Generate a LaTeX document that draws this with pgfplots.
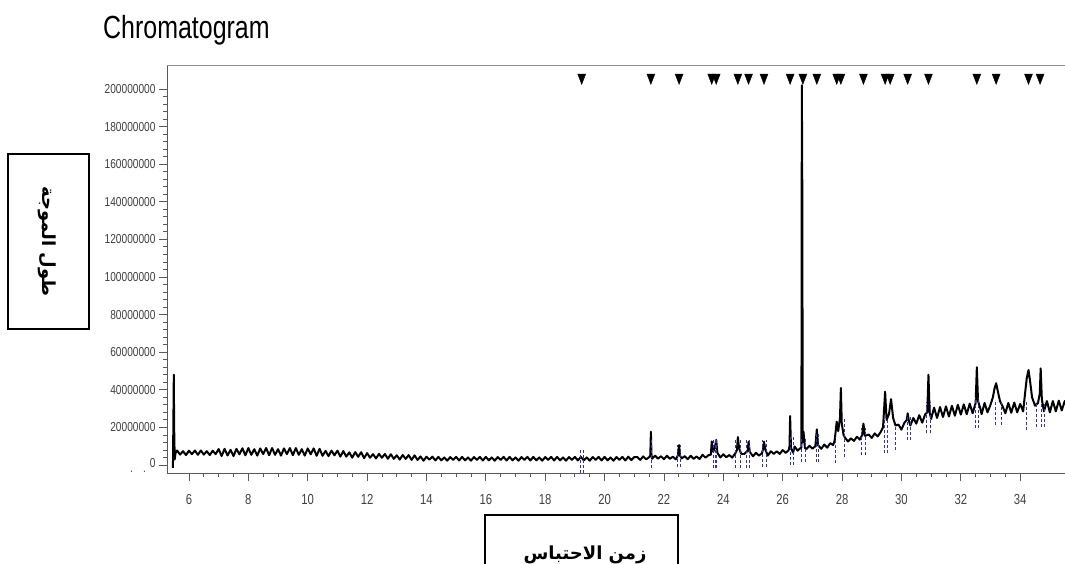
\documentclass[border=0pt]{standalone}
\usepackage{pgfplots}
\pgfplotsset{compat=1.18}
\usepackage{fontspec}
\setmainfont{Liberation Sans}
\newfontfamily\narrowfont[FakeStretch=0.78]{Liberation Sans}
\newfontfamily\arabicfont[Script=Arabic]{DejaVu Sans}
\TeXXeTstate=1
\begin{document}
\begin{tikzpicture}[x=1pt,y=1pt]
\path[use as bounding box] (0,0) rectangle (1065,563);
\clip (0,0) rectangle (1065,563);
\node[anchor=base west, inner sep=0pt] at (103,524) {\fontsize{32}{36}\selectfont\narrowfont Chromatogram};
\draw[line width=1.3pt] (8,409) rectangle (89,234);
\node[rotate=-90, inner sep=0pt] at (47,321.5) {\fontsize{18}{22}\selectfont\arabicfont\bfseries\beginR طول الموجة\endR};
\draw[line width=1.3pt] (485,48) rectangle (678,-40);
\node[anchor=base, inner sep=0pt] at (585,4) {\fontsize{18}{22}\selectfont\arabicfont\bfseries\beginR زمن الاحتباس\endR};
\begin{axis}[name=ax, at={(167pt,90pt)}, anchor=south west, scale only axis,
  width=898pt, height=407pt,
  xmin=5.26, xmax=35.51, ymin=-4.26, ymax=212.2,
  axis x line*=bottom, axis y line*=left,
  axis line style={draw=black!65, line width=1pt, -},
  tick align=outside, major tick length=8pt, minor tick length=4pt,
  tick style={black!65, line width=0.8pt},
  xtick={6,8,...,34}, minor x tick num=3,
  ytick={0,20,...,200}, minor y tick num=4,
  yticklabels={{\llap{\raisebox{-5pt}{.\hspace{10pt}.\hspace{4pt}}}0},20000000,40000000,60000000,80000000,100000000,120000000,140000000,160000000,180000000,200000000},
  /pgf/number format/assume math mode=true,
  xticklabel style={font=\fontsize{14.5}{16}\selectfont\narrowfont, text=black!75, yshift=-10pt},
  yticklabel style={font=\fontsize{13}{15}\selectfont\narrowfont, text=black!75},
]
\addplot[black, line width=2pt, line join=round] coordinates {
(5.46,-1.5) (5.49,48) (5.50,21) (5.52,3) (5.55,6.5)
(5.6,7.7) (5.7,5.54) (5.8,7.34) (5.9,5.3) (6.0,7.58) (6.1,5.78) (6.2,7.7) (6.3,5.42)
(6.4,7.7) (6.5,5.54) (6.6,7.34) (6.7,5.3) (6.8,7.58) (6.9,5.78) (7.0,8.5) (7.1,4.75)
(7.2,8.6) (7.3,5.05) (7.4,8.1) (7.5,4.75) (7.6,8.6) (7.7,5.65) (7.8,8.9) (7.9,5.15)
(8.0,9.0) (8.1,5.4) (8.2,8.4) (8.3,5.0) (8.4,8.8) (8.5,5.8) (8.6,9.0) (8.7,5.2)
(8.8,9.0) (8.9,5.4) (9.0,8.4) (9.1,5.0) (9.2,8.8) (9.3,5.8) (9.4,9.0) (9.5,5.2)
(9.6,9.0) (9.7,5.4) (9.8,8.4) (9.9,5.0) (10.0,8.8) (10.1,5.7) (10.2,8.8) (10.3,4.9)
(10.4,8.6) (10.5,4.9) (10.6,7.52) (10.7,4.7) (10.8,7.64) (10.9,5.14) (11.0,7.6) (11.1,4.46)
(11.2,7.4) (11.3,4.42) (11.4,6.72) (11.5,3.9) (11.6,6.84) (11.7,4.34) (11.8,6.8) (11.9,3.66)
(12.0,6.3) (12.1,3.89) (12.2,5.76) (12.3,3.48) (12.4,5.87) (12.5,3.85) (12.6,5.85) (12.7,3.31)
(12.8,5.7) (12.9,3.29) (13.0,5.16) (13.1,2.88) (13.2,5.27) (13.3,3.25) (13.4,5.25) (13.5,2.71)
(13.6,5.1) (13.7,2.69) (13.8,4.56) (13.9,2.28) (14.0,4.4) (14.1,2.85) (14.2,4.4) (14.3,2.45)
(14.4,4.3) (14.5,2.5) (14.6,4.0) (14.7,2.3) (14.8,4.2) (14.9,2.7) (15.0,4.3) (15.1,2.4)
(15.2,4.3) (15.3,2.5) (15.4,4.0) (15.5,2.3) (15.6,4.2) (15.7,2.7) (15.8,4.3) (15.9,2.4)
(16.0,4.3) (16.1,2.5) (16.2,4.0) (16.3,2.3) (16.4,4.2) (16.5,2.7) (16.6,4.3) (16.7,2.4)
(16.8,4.3) (16.9,2.5) (17.0,4.0) (17.1,2.3) (17.2,4.2) (17.3,2.7) (17.4,4.3) (17.5,2.4)
(17.6,4.3) (17.7,2.5) (17.8,4.0) (17.9,2.3) (18.0,4.2) (18.1,2.7) (18.2,4.3) (18.3,2.4)
(18.4,4.3) (18.5,2.5) (18.6,4.0) (18.7,2.3) (18.8,4.2) (18.9,2.7) (19.0,4.3) (19.1,2.4)
(19.2,4.3) (19.3,2.5) (19.4,4.0) (19.5,2.3) (19.6,4.2) (19.7,2.7) (19.8,4.3) (19.9,2.4)
(20.0,4.3) (20.1,2.5) (20.2,4.0) (20.3,2.3) (20.4,4.2) (20.5,2.7) (20.6,4.3) (20.7,2.4)
(20.8,4.4) (20.9,2.6) (21.0,4.2)
(21.1,4.25) (21.2,2.7) (21.3,4.55) (21.4,3.0) (21.5,4.15) (21.54,5.0) (21.56,17.7) (21.58,5.5)
(21.6,3.3) (21.7,4.95) (21.8,3.4) (21.9,4.65) (22.0,3.1) (22.1,4.9) (22.2,3.3) (22.3,4.4)
(22.4,3.0) (22.47,5.1) (22.51,10.6) (22.54,5.0) (22.6,3.5) (22.7,4.7) (22.8,3.1) (22.9,4.9)
(23.0,3.3) (23.1,4.5) (23.2,3.2) (23.3,5.4) (23.4,3.9) (23.5,5.2) (23.58,5.5) (23.61,12.5)
(23.66,7.0) (23.71,9.0) (23.76,13.3) (23.8,6.5) (23.9,4.0) (24.0,5.7) (24.1,4.15) (24.2,5.3)
(24.3,3.95) (24.4,6.1) (24.46,8.0) (24.49,14.9) (24.53,9.0) (24.6,6.0) (24.7,5.85) (24.82,7.5)
(24.85,12.4) (24.89,7.0) (25.0,4.6) (25.1,6.5) (25.2,5.0) (25.3,6.2) (25.34,8.5) (25.37,12.4)
(25.42,8.0) (25.5,5.0) (25.6,7.3) (25.7,5.9) (25.8,7.3) (25.9,5.9) (26.0,7.9) (26.1,6.5)
(26.2,7.8) (26.23,10.0) (26.25,26.0) (26.28,9.0) (26.35,6.5) (26.4,9.85) (26.5,7.65) (26.6,9.0)
(26.63,9.0) (26.645,202) (26.66,147) (26.675,12) (26.7,17.7) (26.75,9.0) (26.8,8.5) (26.9,10.2)
(27.0,8.7) (27.1,10.0) (27.15,19.0) (27.19,10.5) (27.3,8.6) (27.4,10.9) (27.5,9.2) (27.6,11.6)
(27.7,10.6) (27.75,13.0) (27.82,23.0) (27.87,18.0) (27.93,25.0) (27.96,41.0) (27.99,22.0) (28.05,16.0)
(28.1,14.5) (28.2,12.5) (28.3,14.2) (28.4,12.8) (28.5,15.0) (28.6,13.5) (28.68,16.0) (28.72,22.0)
(28.77,15.5) (28.9,16.2) (29.0,14.4) (29.1,16.8) (29.2,15.2) (29.3,17.5) (29.38,20.0) (29.45,39.0)
(29.5,24.0) (29.58,27.0) (29.65,35.0) (29.72,25.0) (29.8,21.0) (29.9,21.5) (30.0,18.8) (30.1,22.5)
(30.18,24.0) (30.21,27.5) (30.25,23.5) (30.3,21.0) (30.4,25.0) (30.5,22.0) (30.6,26.5) (30.7,22.5)
(30.8,27.0) (30.87,28.0) (30.91,48.0) (30.95,28.0) (31.0,24.5) (31.1,30.5) (31.2,25.0) (31.3,30.8)
(31.4,25.5) (31.5,31.2) (31.6,25.8) (31.7,31.5) (31.8,26.2) (31.9,32.0) (32.0,26.8) (32.1,32.2)
(32.2,27.0) (32.3,32.6) (32.4,27.5) (32.5,33.0) (32.54,52.0) (32.58,34.0) (32.65,30.5) (32.7,27.0)
(32.8,33.0) (32.9,28.0) (33.0,32.0) (33.08,36.0) (33.14,41.0) (33.19,43.5) (33.25,39.0) (33.32,34.0)
(33.4,31.5) (33.5,27.5) (33.6,33.0) (33.7,27.8) (33.8,33.2) (33.9,28.0) (34.0,32.5) (34.1,28.5)
(34.15,36.0) (34.22,46.0) (34.28,50.5) (34.33,45.0) (34.4,36.0) (34.5,31.5) (34.6,33.0) (34.66,38.0)
(34.69,51.4) (34.73,35.0) (34.8,28.5) (34.9,34.0) (35.0,28.0) (35.1,34.0) (35.2,28.5) (35.3,34.2)
(35.4,29.0) (35.5,34.0) (35.6,30.0)
};
\addplot[blue!60!black!80, densely dashed, line width=0.6pt, unbounded coords=jump] coordinates {
(19.17,-4.2) (19.17,8.9) (19.17,nan) (19.3,-4.2) (19.3,8.9) (19.3,nan)
(21.56,-1.8) (21.56,13.3) (21.56,nan)
(22.45,-0.9) (22.45,10.6) (22.45,nan) (22.56,-0.9) (22.56,10.6) (22.56,nan)
(23.65,-1.8) (23.65,13.3) (23.65,nan) (23.73,-1.8) (23.73,13.3) (23.73,nan) (23.78,-1.8) (23.78,13.3) (23.78,nan)
(24.42,-1.8) (24.42,13.3) (24.42,nan) (24.56,-1.8) (24.56,13.3) (24.56,nan)
(24.77,-1.8) (24.77,13.3) (24.77,nan) (24.88,-1.8) (24.88,13.3) (24.88,nan)
(25.31,-0.9) (25.31,13.3) (25.31,nan) (25.46,-0.9) (25.46,13.3) (25.46,nan)
(26.25,0) (26.25,15) (26.25,nan) (26.36,0) (26.36,15) (26.36,nan)
(26.62,1.8) (26.62,14.2) (26.62,nan) (26.77,1.8) (26.77,14.2) (26.77,nan)
(27.12,1.8) (27.12,16.8) (27.12,nan) (27.21,1.8) (27.21,16.8) (27.21,nan)
(27.77,0.9) (27.77,15) (27.77,nan)
(28.07,4.4) (28.07,24.8) (28.07,nan)
(28.66,5.3) (28.66,19.5) (28.66,nan) (28.77,5.3) (28.77,19.5) (28.77,nan)
(29.43,6.2) (29.43,24.8) (29.43,nan) (29.52,6.2) (29.52,24.8) (29.52,nan)
(29.79,8) (29.79,21.3) (29.79,nan)
(30.2,13.3) (30.2,26.6) (30.2,nan) (30.3,13.3) (30.3,26.6) (30.3,nan)
(30.85,16.8) (30.85,33.7) (30.85,nan) (30.96,16.8) (30.96,33.7) (30.96,nan)
(32.48,19.5) (32.48,35.5) (32.48,nan) (32.59,19.5) (32.59,35.5) (32.59,nan)
(33.15,21.3) (33.15,34.6) (33.15,nan) (33.35,21.3) (33.35,34.6) (33.35,nan)
(34.2,18.6) (34.2,33.7) (34.2,nan)
(34.54,20.4) (34.54,33.7) (34.54,nan) (34.71,20.4) (34.71,33.7) (34.71,nan) (34.8,20.4) (34.8,33.7)
};
\addplot[only marks, mark=triangle*, mark size=4.6pt, black, mark options={yscale=-1.5}] coordinates {
(19.23,206.1) (21.56,206.1) (22.51,206.1) (23.61,206.1) (23.76,206.1) (24.49,206.1) (24.85,206.1)
(25.37,206.1) (26.25,206.1) (26.68,206.1) (27.15,206.1) (27.82,206.1) (27.96,206.1) (28.72,206.1)
(29.45,206.1) (29.62,206.1) (30.21,206.1) (30.91,206.1) (32.54,206.1) (33.19,206.1) (34.28,206.1) (34.67,206.1)
};
\end{axis}
\draw[black!45, line width=1pt] (ax.north west) -- (ax.north east);
\end{tikzpicture}
\end{document}
